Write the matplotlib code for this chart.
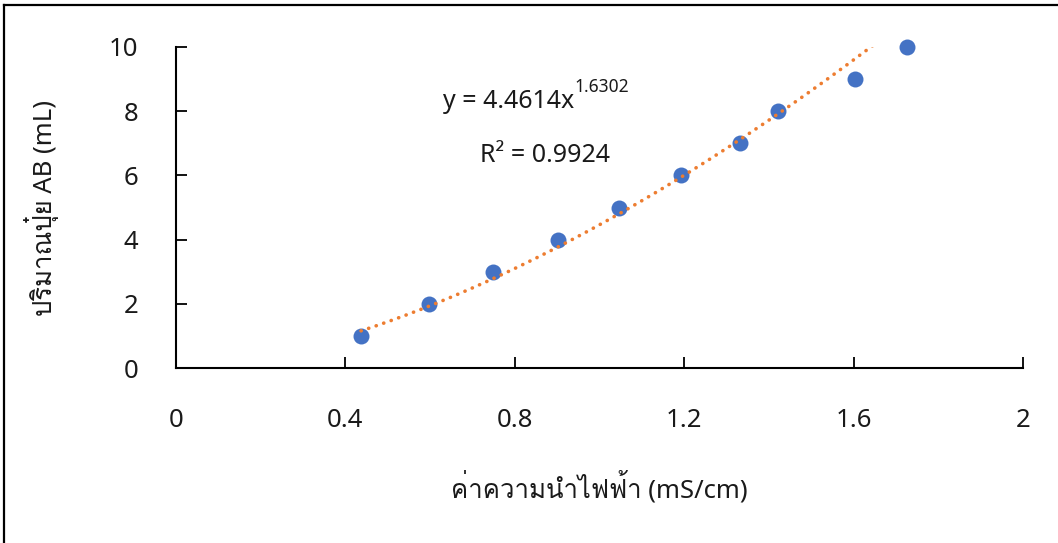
import matplotlib
matplotlib.use("Agg")
import matplotlib.pyplot as plt
import numpy as np
from matplotlib import font_manager
from matplotlib.ft2font import FT2Font
from matplotlib.lines import Line2D

# ---- data ----
conductivity = [0.437, 0.597, 0.749, 0.902, 1.046, 1.192, 1.332, 1.421, 1.603, 1.726]
fertilizer_ml = [1, 2, 3, 4, 5, 6, 7, 8, 9, 10]
fit_coef = 4.4614
fit_exp = 1.6302
r_squared = 0.9924
x_ticks = [0, 0.4, 0.8, 1.2, 1.6, 2]
x_tick_labels = ["0", "0.4", "0.8", "1.2", "1.6", "2"]
y_ticks = [0, 2, 4, 6, 8, 10]
x_label = "ค่าความนำไฟฟ้า (mS/cm)"
y_label = "ปริมาณปุ๋ย AB (mL)"

# ---- find a font with Thai glyphs ----
thai_font = None
for fe in font_manager.fontManager.ttflist:
    try:
        f = FT2Font(fe.fname)
        cm = f.get_charmap()
        if 0x0E04 in cm and 0x0E32 in cm and 0x0E48 in cm:
            thai_font = fe.name
            break
    except Exception:
        continue
families = ["Noto Sans"] + ([thai_font] if thai_font else []) + ["DejaVu Sans"]
plt.rcParams["font.family"] = families

fig = plt.figure(figsize=(10.58, 5.43), dpi=100)
W, H = 1058, 543
ax = fig.add_axes([176 / W, 1 - 368 / H, (1023 - 176) / W, (368 - 47) / H])

# trendline (power fit from displayed equation), clipped at axes
xf = np.linspace(min(conductivity), max(conductivity), 400)
yf = fit_coef * xf ** fit_exp
ax.plot(xf, yf, color="#ED7D31", lw=2.6, linestyle=(0, (0.05, 2.15)),
        dash_capstyle="round", solid_capstyle="round", zorder=3)

ax.plot(conductivity, fertilizer_ml, "o", color="#4472C4", markersize=11.5,
        markeredgewidth=0, zorder=2, clip_on=False)

ax.set_xlim(0, 2)
ax.set_ylim(0, 10)
ax.set_xticks(x_ticks)
ax.set_xticklabels(x_tick_labels)
ax.set_yticks(y_ticks)
ax.tick_params(direction="in", length=8, width=1.3, labelsize=18.5, color="black",
               labelcolor="#1a1a1a")
ax.tick_params(axis="x", pad=29)
ax.tick_params(axis="y", pad=27)
for s in ["top", "right"]:
    ax.spines[s].set_visible(False)
for s in ["left", "bottom"]:
    ax.spines[s].set_linewidth(1.5)
    ax.spines[s].set_color("black")

ax.set_xlabel(x_label, fontsize=18.5, color="#1a1a1a", labelpad=27)
ax.set_ylabel(y_label, fontsize=18.5, color="#1a1a1a", labelpad=36)

# equation text
t = ax.text(443 / W, 1 - 101 / H, "y = 4.4614x", transform=fig.transFigure,
            fontsize=18, color="#1a1a1a", ha="left", va="center")
ax.annotate("1.6302", xy=(1.0, 0.72), xycoords=t, fontsize=12.5,
            color="#1a1a1a", ha="left", va="bottom")
ax.text(545 / W, 1 - 156 / H, "R² = " + f"{r_squared:.4f}", transform=fig.transFigure,
        fontsize=18, color="#1a1a1a", ha="center", va="center")

# outer frame (partially visible)
fig.add_artist(Line2D([4 / W, 4 / W], [0, 1 - 5 / H], transform=fig.transFigure,
                      color="black", lw=1.6))
fig.add_artist(Line2D([4 / W, 1], [1 - 5 / H, 1 - 5 / H], transform=fig.transFigure,
                      color="black", lw=1.6))

fig.savefig("out.png", dpi=100)
